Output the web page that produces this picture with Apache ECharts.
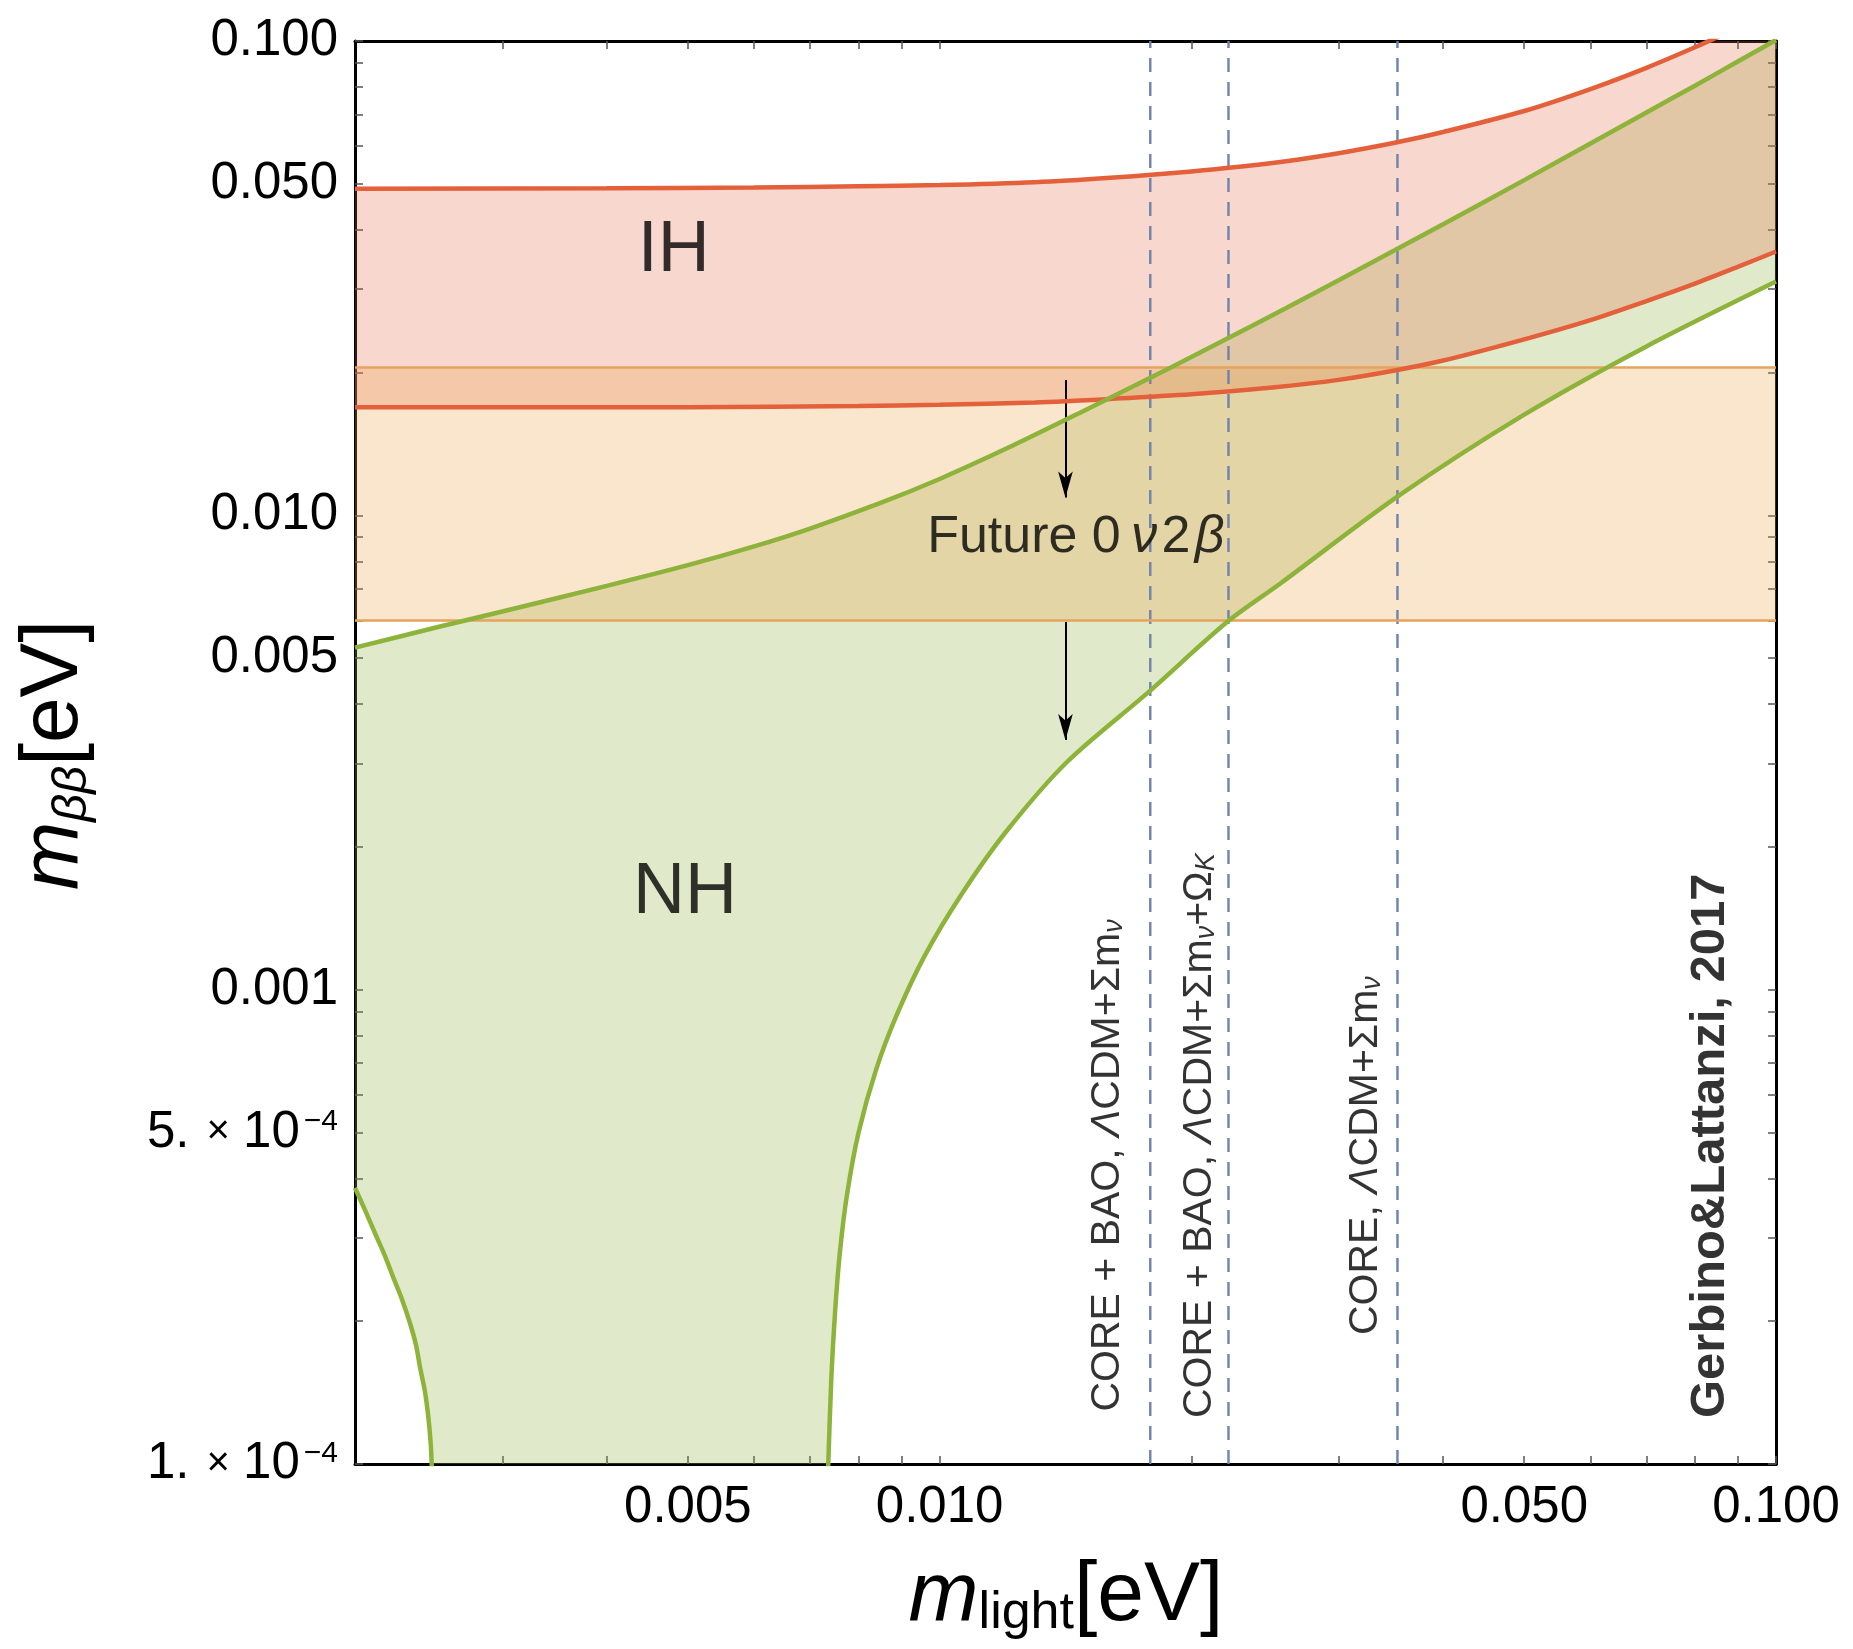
<!DOCTYPE html>
<html>
<head>
<meta charset="utf-8">
<title>m_bb vs m_light</title>
<script src="https://cdn.jsdelivr.net/npm/echarts@6/dist/echarts.min.js"></script>
<style>
  html, body { margin: 0; padding: 0; background: #ffffff; }
  #chart { width: 1853px; height: 1649px; }
</style>
</head>
<body>
<div id="chart"></div>
<script>
// Effective Majorana mass m_bb against the lightest neutrino mass (all values in eV)

const xRange = [0.002, 0.1];
const yRange = [1e-4, 0.1];

const xTickValues = [0.005, 0.01, 0.05, 0.1];
const xTickText = ['0.005', '0.010', '0.050', '0.100'];
const xMinorTicks = [0.003, 0.004, 0.006, 0.007, 0.008, 0.009, 0.02, 0.03, 0.04, 0.06, 0.07, 0.08, 0.09];

const yTickValues = [1e-4, 5e-4, 0.001, 0.005, 0.01, 0.05, 0.1];
const yTickText = ['{a|1.}{x| × }{a|10}{s|−4}', '{a|5.}{x| × }{a|10}{s|−4}', '0.001', '0.005', '0.010', '0.050', '0.100'];
const yMinorTicks = [2e-4, 3e-4, 4e-4, 6e-4, 7e-4, 8e-4, 9e-4, 0.002, 0.003, 0.004, 0.006, 0.007, 0.008, 0.009,
                     0.02, 0.03, 0.04, 0.06, 0.07, 0.08, 0.09];

// Inverted hierarchy: upper and lower edge of the allowed band
const ihUpper = [[0.002, 0.0488], [0.004, 0.0489], [0.006, 0.0491], [0.008, 0.0494], [0.01, 0.0497],
                 [0.013, 0.0504], [0.016, 0.0515], [0.02, 0.0531], [0.025, 0.0553], [0.03, 0.0580],
                 [0.035, 0.0610], [0.04, 0.0643], [0.05, 0.0712], [0.06, 0.0792], [0.07, 0.0878],
                 [0.08, 0.0970], [0.09, 0.1065], [0.1, 0.1160]];
const ihLower = [[0.002, 0.0169], [0.005, 0.0169], [0.008, 0.0170], [0.01, 0.0171], [0.013, 0.0173],
                 [0.016, 0.0176], [0.02, 0.0180], [0.025, 0.0186], [0.03, 0.0193], [0.035, 0.0202],
                 [0.04, 0.0212], [0.05, 0.0235], [0.06, 0.0258], [0.07, 0.0283], [0.08, 0.0308],
                 [0.09, 0.0334], [0.1, 0.0360]];

// Normal hierarchy: upper edge, and the lower edge on both sides of the cancellation dip
const nhUpper = [[0.002, 0.00526], [0.0025, 0.00580], [0.003, 0.00627], [0.004, 0.00710], [0.005, 0.00785],
                 [0.006, 0.00860], [0.007, 0.00938], [0.0085, 0.01062], [0.01, 0.01193], [0.012, 0.01381],
                 [0.0147, 0.01644], [0.0189, 0.0205], [0.0222, 0.0237], [0.026, 0.0274], [0.03, 0.0313],
                 [0.035, 0.0362], [0.04, 0.0411], [0.05, 0.0509], [0.06, 0.0608], [0.07, 0.0707],
                 [0.08, 0.0805], [0.09, 0.0905], [0.1, 0.1005]];
const nhLowerLeft = [[0.002, 3.82e-4], [0.002056, 3.43e-4], [0.002123, 3.01e-4], [0.002173, 2.74e-4],
                     [0.002221, 2.48e-4], [0.002277, 2.22e-4], [0.002327, 1.98e-4], [0.002366, 1.78e-4],
                     [0.002392, 1.60e-4], [0.002425, 1.42e-4], [0.002447, 1.26e-4], [0.002462, 1.12e-4],
                     [0.00247, 1.0e-4], [0.00248, 6e-5]];
const nhLowerRight = [[0.00725, 5e-5], [0.00736, 1.0e-4], [0.00742, 1.5e-4], [0.0075, 2.1e-4], [0.0076, 2.8e-4],
                      [0.00775, 3.7e-4], [0.008, 5.0e-4], [0.0084, 6.8e-4], [0.0089, 8.9e-4], [0.0096, 1.18e-3],
                      [0.0106, 1.58e-3], [0.012, 2.15e-3], [0.0142, 3.02e-3], [0.0178, 4.25e-3],
                      [0.0221, 5.97e-3], [0.0256, 7.2e-3], [0.0354, 0.0110], [0.05, 0.0163],
                      [0.07, 0.0227], [0.1, 0.0311]];

// Reach of future 0v2b experiments
const futureBand = [0.006, 0.0205];
// Lightest-mass limits from CORE forecasts
const cosmoLimits = [0.01786, 0.02215, 0.03527];
const cosmoLabels = [
  '{t|CORE + BAO, }{i|Λ}{t|CDM+Σm}{sub|ν}',
  '{t|CORE + BAO, }{i|Λ}{t|CDM+Σm}{sub|ν}{t|+Ω}{sub|K}',
  '{t|CORE, }{i|Λ}{t|CDM+Σm}{sub|ν}'
];
// Arrows: [m_light, from, to]
const arrows = [[0.01414, 0.0193, 0.0109], [0.01414, 0.00596, 0.00336]];

// Anchor points (in eV) of the text annotations
const cosmoLabelAnchors = [[0.01589, 1.29e-4], [0.02047, 1.25e-4], [0.0323, 1.87e-4]];
const ihAnchor = [0.00481, 0.0360];
const nhAnchor = [0.00496, 0.00160];
const futureAnchor = [0.01455, 0.00896];
const creditAnchor = [0.0835, 1.25e-4];

const lg = Math.log10;
const toLog = pts => pts.map(p => [lg(p[0]), lg(p[1])]);
const pickText = (v, vals, texts) => {
  for (let i = 0; i < vals.length; i++) if (Math.abs(lg(vals[i]) - v) < 1e-6) return texts[i];
  return '';
};

const FONT = 'Liberation Sans, Arial, Helvetica, sans-serif';
const RED = '#e4603b';
const GREEN = '#8db33a';
const BAND_EDGE = '#e6a35c';
const DASH = '#6f82ab';
const FILL_IH = 'rgba(228, 96, 59, 0.25)';
const FILL_NH = 'rgba(141, 179, 58, 0.27)';
const FILL_BAND = 'rgba(236, 160, 70, 0.27)';

function polygonSeries(name, pts, color, z) {
  return {
    type: 'custom', name, z, silent: true, clip: true,
    data: toLog(pts),
    encode: { x: 0, y: 1 },
    renderItem(params, api) {
      if (params.dataIndexInside !== 0) return null;
      const n = params.dataInsideLength;
      const points = [];
      for (let i = 0; i < n; i++) points.push(api.coord([api.value(0, i), api.value(1, i)]));
      return { type: 'polygon', shape: { points }, style: { fill: color } };
    }
  };
}

function curveSeries(name, pts, color) {
  return {
    type: 'line', name, z: 6, silent: true, clip: true,
    data: toLog(pts), showSymbol: false, symbol: 'none', smooth: 0.3,
    lineStyle: { color, width: 4.5 }
  };
}

const nhRegion = nhUpper.concat(nhLowerRight.slice().reverse(), nhLowerLeft.slice().reverse());
const ihRegion = ihUpper.concat(ihLower.slice().reverse());
const bandRegion = [[xRange[0], futureBand[0]], [xRange[1], futureBand[0]],
                    [xRange[1], futureBand[1]], [xRange[0], futureBand[1]]];

const tickLine = { show: true, inside: true, length: 8, lineStyle: { color: '#555', width: 1.5 } };
const frameLine = { show: true, onZero: false, lineStyle: { color: '#000', width: 3 } };
const xTicks = xTickValues.concat(xMinorTicks).map(lg);
const yTicks = yTickValues.concat(yMinorTicks).map(lg);

const labelSeriesData = [
  { value: [lg(ihAnchor[0]), lg(ihAnchor[1])],
    label: { formatter: 'IH', fontSize: 72, align: 'center', verticalAlign: 'middle' } },
  { value: [lg(nhAnchor[0]), lg(nhAnchor[1])],
    label: { formatter: 'NH', fontSize: 72, align: 'center', verticalAlign: 'middle' } },
  { value: [lg(futureAnchor[0]), lg(futureAnchor[1])],
    label: { formatter: '{T|Future 0}{I|\u2009ν\u200a}{T|2}{I|\u200aβ}', align: 'center', verticalAlign: 'middle' } },
  { value: [lg(creditAnchor[0]), lg(creditAnchor[1])],
    label: { formatter: 'Gerbino&Lattanzi, 2017', fontSize: 49, fontWeight: 'bold',
             rotate: 90, align: 'left', verticalAlign: 'middle' } }
].concat(cosmoLabelAnchors.map((a, i) => ({
  value: [lg(a[0]), lg(a[1])],
  label: { formatter: cosmoLabels[i], rotate: 90, align: 'left', verticalAlign: 'middle' }
})));

const richText = {
  t: { fontSize: 41, fontFamily: FONT, color: '#000' },
  i: { fontSize: 41, fontFamily: FONT, fontStyle: 'italic', color: '#000' },
  sub: { fontSize: 27, fontFamily: FONT, fontStyle: 'italic', color: '#000', verticalAlign: 'bottom', lineHeight: 22 },
  T: { fontSize: 52, fontFamily: FONT, color: '#000' },
  I: { fontSize: 52, fontFamily: FONT, fontStyle: 'italic', color: '#000' }
};

const option = {
  animation: false,
  backgroundColor: '#ffffff',
  textStyle: { fontFamily: FONT },
  grid: { left: 355, top: 41, width: 1421, height: 1423, containLabel: false },
  xAxis: [
    {
      type: 'value', position: 'bottom', min: lg(xRange[0]), max: lg(xRange[1]),
      axisLine: frameLine, splitLine: { show: false },
      axisTick: Object.assign({ customValues: xTicks }, tickLine),
      axisLabel: {
        customValues: xTickValues.map(lg), margin: 18,
        formatter: v => pickText(v, xTickValues, xTickText),
        fontSize: 51, fontFamily: FONT, color: '#000'
      }
    },
    {
      type: 'value', position: 'top', min: lg(xRange[0]), max: lg(xRange[1]),
      axisLine: frameLine, splitLine: { show: false },
      axisTick: Object.assign({ customValues: xTicks }, tickLine),
      axisLabel: { show: false }
    }
  ],
  yAxis: [
    {
      type: 'value', position: 'left', min: lg(yRange[0]), max: lg(yRange[1]),
      axisLine: frameLine, splitLine: { show: false },
      axisTick: Object.assign({ customValues: yTicks }, tickLine),
      axisLabel: {
        customValues: yTickValues.map(lg), margin: 17,
        formatter: v => pickText(v, yTickValues, yTickText),
        fontSize: 51, fontFamily: FONT, color: '#000',
        rich: {
          a: { fontSize: 51, fontFamily: FONT, color: '#000' },
          x: { fontSize: 40, fontFamily: FONT, color: '#000', padding: [0, 2, 0, 6] },
          s: { fontSize: 30, fontFamily: FONT, color: '#000', verticalAlign: 'top', lineHeight: 24, padding: [0, 0, 0, 4] }
        }
      }
    },
    {
      type: 'value', position: 'right', min: lg(yRange[0]), max: lg(yRange[1]),
      axisLine: frameLine, splitLine: { show: false },
      axisTick: Object.assign({ customValues: yTicks }, tickLine),
      axisLabel: { show: false }
    }
  ],
  graphic: [
    {
      type: 'text', x: 57, y: 755, rotation: Math.PI / 2, silent: true,
      style: {
        text: '{m|m}{sub|ββ}{n|[eV]}', align: 'center', verticalAlign: 'middle',
        rich: {
          m: { fontSize: 82, fontFamily: FONT, fontStyle: 'italic', lineHeight: 80, padding: [0, 0, 6, 0], fill: '#000' },
          sub: { fontSize: 49, fontFamily: FONT, fontStyle: 'italic', lineHeight: 48, verticalAlign: 'bottom', fill: '#000' },
          n: { fontSize: 82, fontFamily: FONT, lineHeight: 80, padding: [0, 0, 6, 0], fill: '#000' }
        }
      }
    },
    {
      type: 'text', x: 1066, y: 1600, silent: true,
      style: {
        text: '{m|m}{sub|light}{n|[eV]}', align: 'center', verticalAlign: 'middle',
        rich: {
          m: { fontSize: 84, fontFamily: FONT, fontStyle: 'italic', lineHeight: 80, padding: [0, 0, 6, 0], fill: '#000' },
          sub: { fontSize: 52, fontFamily: FONT, lineHeight: 48, verticalAlign: 'bottom', fill: '#000' },
          n: { fontSize: 84, fontFamily: FONT, lineHeight: 80, padding: [0, 0, 6, 0], fill: '#000' }
        }
      }
    }
  ],
  series: [
    polygonSeries('NH region', nhRegion, FILL_NH, 1),
    polygonSeries('IH region', ihRegion, FILL_IH, 2),
    polygonSeries('Future 0v2b reach', bandRegion, FILL_BAND, 3)
  ].concat(cosmoLimits.map((v, i) => ({
    type: 'line', name: 'limit ' + (i + 1), z: 4, silent: true,
    data: toLog([[v, yRange[0]], [v, yRange[1]]]), showSymbol: false, symbol: 'none',
    lineStyle: { color: DASH, width: 2.4, type: [14, 10] }
  }))).concat(futureBand.map((v, i) => ({
    type: 'line', name: 'band edge ' + (i + 1), z: 5, silent: true,
    data: toLog([[xRange[0], v], [xRange[1], v]]), showSymbol: false, symbol: 'none',
    lineStyle: { color: BAND_EDGE, width: 2.6 },
    markLine: i === 0 ? {
      silent: true, symbol: ['none', 'arrow'], symbolSize: [11, 26],
      label: { show: false }, lineStyle: { color: '#000', width: 2, type: 'solid' },
      emphasis: { disabled: true },
      data: arrows.map(a => [{ coord: [lg(a[0]), lg(a[1])] }, { coord: [lg(a[0]), lg(a[2])] }])
    } : undefined
  }))).concat([
    curveSeries('IH max', ihUpper, RED),
    curveSeries('IH min', ihLower, RED),
    curveSeries('NH max', nhUpper, GREEN),
    curveSeries('NH min (low)', nhLowerLeft, GREEN),
    curveSeries('NH min (high)', nhLowerRight, GREEN),
    {
      type: 'scatter', name: 'annotations', z: 8, silent: true,
      symbolSize: 1, itemStyle: { color: 'rgba(0,0,0,0)' },
      label: { show: true, position: 'inside', color: '#000', fontFamily: FONT, rich: richText },
      data: labelSeriesData
    }
  ])
};

const chart = echarts.init(document.getElementById('chart'), null, { renderer: 'canvas', width: 1853, height: 1649 });
chart.setOption(option);
</script>
</body>
</html>
